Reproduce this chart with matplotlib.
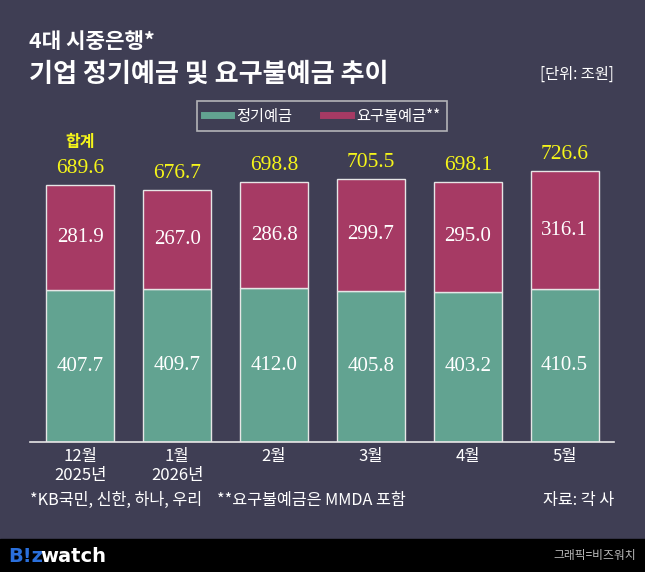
import matplotlib.pyplot as plt
from matplotlib.lines import Line2D

plt.rcParams['font.family'] = ['Noto Sans CJK KR', 'DejaVu Sans']

months = ['12월\n2025년', '1월\n2026년', '2월', '3월', '4월', '5월']
time_dep = [407.7, 409.7, 412.0, 405.8, 403.2, 410.5]
demand_dep = [281.9, 267.0, 286.8, 299.7, 295.0, 316.1]
totals = [689.6, 676.7, 698.8, 705.5, 698.1, 726.6]

bg = '#3f3e54'
green = '#62a391'
maroon = '#a63a64'
yellow = '#f5f51a'
W, H = 645, 572

def fy(py):
    return 1 - py / H

def fx(px):
    return px / W

fig = plt.figure(figsize=(W / 100, H / 100), dpi=100, facecolor=bg)
ax = fig.add_axes([fx(30), fy(442), fx(614) - fx(30), fy(100) - fy(442)])
ax.set_facecolor(bg)

x = range(len(months))
ax.bar(x, time_dep, width=0.7, color=green, edgecolor='#e6e6e6', linewidth=1)
ax.bar(x, demand_dep, width=0.7, bottom=time_dep, color=maroon,
       edgecolor='#e6e6e6', linewidth=1)

serif = 'Liberation Serif'
for i in x:
    ax.text(i, time_dep[i] / 2, f'{time_dep[i]:.1f}', ha='center', va='center',
            color='white', fontsize=15, family=serif)
    ax.text(i, time_dep[i] + demand_dep[i] / 2, f'{demand_dep[i]:.1f}',
            ha='center', va='center', color='white', fontsize=15, family=serif)
    ax.annotate(f'{totals[i]:.1f}', (i, totals[i]), xytext=(0, 5),
                textcoords='offset points', ha='center', va='bottom',
                color=yellow, fontsize=15.5, family=serif)
ax.annotate('합계', (0, totals[0]), xytext=(0, 25), textcoords='offset points',
            ha='center', va='bottom', color=yellow, fontsize=11.5, fontweight='bold')

ax.set_xlim(-0.52, 5.51)
ax.set_ylim(0, (442 - 100) / 0.3727)
for s in ['top', 'right', 'left']:
    ax.spines[s].set_visible(False)
ax.spines['bottom'].set_color('#e6e6e6')
ax.spines['bottom'].set_linewidth(1.2)
ax.set_yticks([])
ax.set_xticks(list(x))
ax.set_xticklabels(months, color='white', fontsize=12, linespacing=1.15)
ax.tick_params(axis='x', length=0, pad=4)

# titles
fig.text(fx(29), fy(42), '4대 시중은행*', color='white', fontsize=15.3,
         fontweight='bold', va='center', ha='left')
fig.text(fx(29), fy(74), '기업 정기예금 및 요구불예금 추이', color='white',
         fontsize=18.8, fontweight='bold', va='center', ha='left')
fig.text(fx(614), fy(74), '[단위: 조원]', color='white', fontsize=11,
         va='center', ha='right')

# legend
handles = [Line2D([0], [0], color=green, lw=5),
           Line2D([0], [0], color=maroon, lw=5)]
leg = fig.legend(handles, ['정기예금', '요구불예금**'], loc='center',
                 bbox_to_anchor=(fx(322), fy(116)), ncol=2, frameon=True,
                 fancybox=False, facecolor=bg, edgecolor='#d0d0d0',
                 fontsize=11, labelcolor='white', handlelength=1.8,
                 columnspacing=2.0, handletextpad=0.35, borderpad=0.45)
leg.get_frame().set_linewidth(1.2)

# footnotes
fig.text(fx(30), fy(500), '*KB국민, 신한, 하나, 우리', color='white',
         fontsize=11.7, va='center', ha='left')
fig.text(fx(217), fy(500), '**요구불예금은 MMDA 포함', color='white',
         fontsize=11.7, va='center', ha='left')
fig.text(fx(614), fy(500), '자료: 각 사', color='white', fontsize=11.7,
         va='center', ha='right')

# bottom band
fig.patches.append(plt.Rectangle((0, 0), 1, fy(539), transform=fig.transFigure,
                                 color='black', zorder=0))
fig.text(fx(8), fy(556), 'B!z', color='#2a6fdb', fontsize=14,
         fontweight='bold', va='center', ha='left', family='DejaVu Sans')
fig.text(fx(40), fy(556), 'watch', color='white', fontsize=14,
         fontweight='bold', va='center', ha='left', family='DejaVu Sans')
fig.text(fx(636), fy(556), '그래픽=비즈워치', color='#bbbbbb', fontsize=8.5,
         va='center', ha='right')

fig.savefig('out.png', dpi=100, facecolor=bg)
